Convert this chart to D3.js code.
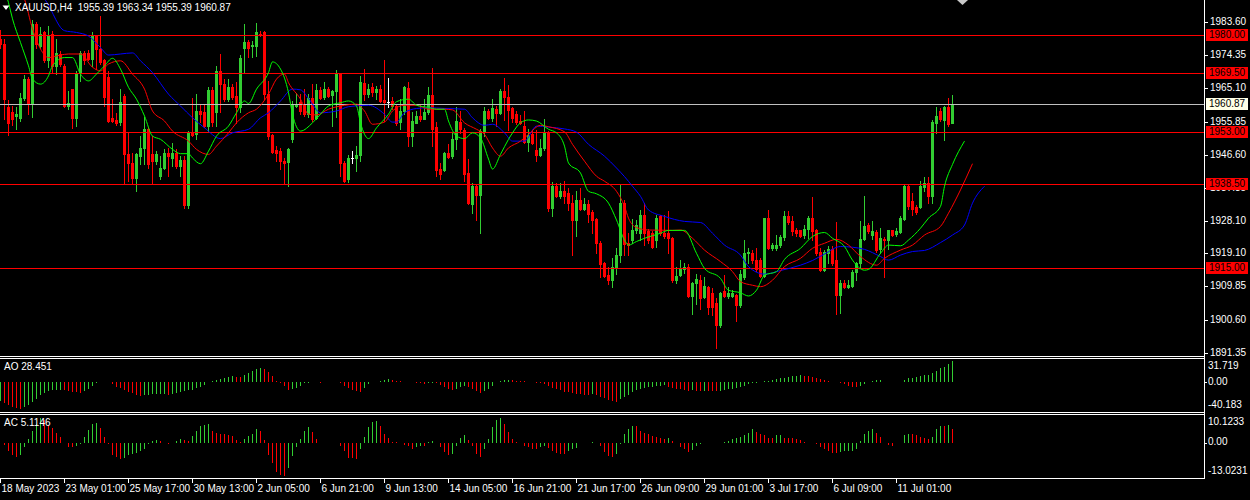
<!DOCTYPE html>
<html><head><meta charset="utf-8">
<script src="https://cdn.jsdelivr.net/npm/d3@7"></script>
<style>
html,body{margin:0;padding:0;background:#000;overflow:hidden;}
svg{display:block;}
text{font-family:"Liberation Sans",Arial,sans-serif;font-size:10px;fill:#fff;white-space:pre;}
</style></head><body>
<svg id="c" width="1250" height="500"></svg>
<script>
// ---------------- DATA ----------------
const symbolTitle = "XAUUSD,H4  1955.39 1963.34 1955.39 1960.87";
const aoTitle = "AO 28.451";
const acTitle = "AC 5.1146";

// candle rows: [open, high, low, close]
const candleOHLC = [
[1979,1981.5,1976.5,1977.5],[1977.5,1978.9,1956.5,1962.1],[1960,1962,1952,1955.5],[1958.5,1960.2,1954.8,1956.7],[1957.5,1960,1953.7,1958],
[1956.9,1963.9,1956,1962.5],[1962.5,1968.8,1962,1967.7],[1967.8,1968.4,1957.9,1960.7],[1960.7,1984.3,1957.2,1983.1],[1983,1983.5,1976.5,1977.5],
[1977,1982.2,1976.5,1980.3],[1980.8,1981.2,1972.4,1972.9],[1972.9,1982.4,1971,1979.8],[1980.3,1981.2,1969.5,1971.4],[1971.4,1978.9,1969.1,1975.1],
[1974.7,1975.6,1971.4,1971.9],[1971.4,1971.9,1960,1960.2],[1960.2,1964.4,1959.3,1960.9],[1964.8,1964.9,1954,1956.9],[1956.9,1970,1954.5,1969.5],
[1969.5,1975.6,1967.3,1975.1],[1975,1975.4,1972,1972.9],[1975,1975.7,1972.9,1973.3],[1973.3,1980.7,1971.4,1979.6],[1979.6,1979.8,1970.5,1976.1],
[1976.1,1985.4,1971.9,1972.4],[1972.9,1973.3,1960.2,1962.6],[1968.2,1970,1955.6,1956],[1956.8,1962.1,1955.6,1956],[1956.4,1958.3,1955,1955.5],
[1955.8,1964.9,1955,1961.2],[1963,1963.5,1938.7,1946.7],[1946.7,1952.7,1939.2,1944.3],[1944.3,1947.1,1938.7,1940.1],[1940.1,1947.1,1936.4,1946.7],
[1946.2,1951.8,1943.9,1948.5],[1948.5,1957,1943.9,1953.7],[1953.7,1954.2,1943,1943.9],[1946.7,1951.8,1938.7,1944.8],[1944.8,1947.6,1943.9,1946.7],
[1940.6,1946.2,1939.7,1943],[1943,1948.1,1942.5,1947],[1947,1948.5,1940.6,1946.2],[1945.7,1949.8,1943.4,1947.1],[1947.1,1948.1,1943,1943.4],
[1943.4,1946.2,1940.6,1945.1],[1945.1,1946.2,1931.8,1932.7],[1932.7,1953.2,1931.8,1952.7],[1953,1962.5,1951.8,1952],[1952.3,1963.5,1950.9,1958.8],
[1958.8,1960.7,1955.6,1957.9],[1958.4,1960.7,1954.2,1954.7],[1954.6,1965.4,1953.2,1964.7],[1964.7,1965.4,1954.6,1955.8],[1958.4,1971.4,1954.6,1970],
[1970,1974.7,1958.4,1966.3],[1966.3,1967.7,1961.6,1962.1],[1962.1,1967.7,1961.6,1965.6],[1965.6,1966.3,1962.1,1962.6],[1963,1966.8,1955.5,1959.8],
[1959.8,1974.4,1958.5,1973.5],[1976.3,1983.1,1969.7,1978],[1978.1,1978.7,1974,1976.5],[1976.8,1978.4,1974,1977.1],[1977,1983.4,1974.2,1980.7],
[1980.4,1981.2,1979.6,1980],[1980.7,1981.2,1962.1,1963.5],[1963.5,1967.3,1950.9,1951.8],[1952,1952.3,1947.1,1947.3],[1947.9,1949,1944.9,1947.1],
[1947.6,1948.5,1942.5,1944.8],[1944.8,1945.7,1938.7,1944.4],[1944.6,1948.5,1937.8,1948.2],[1950.9,1961.6,1950.1,1960.4],[1960.2,1963.9,1959.8,1960.7],
[1961.2,1963.5,1958,1958.9],[1960.4,1964.8,1957.4,1957.9],[1957.9,1963.5,1957,1962.3],[1962.3,1966.3,1956,1956.5],[1956.9,1966.3,1956.5,1964.7],
[1964.7,1965.4,1962.1,1962.3],[1962.8,1966.8,1962.1,1964.9],[1964.9,1965.4,1962.6,1963],[1963.2,1964.6,1954.6,1964.4],[1964.4,1970.2,1957,1969.5],
[1969.1,1969.5,1940.6,1944.4],[1944.3,1944.8,1939,1939.2],[1939.7,1946.6,1939,1945.7],[1945.8,1947.6,1944.3,1945.8],[1945.7,1949,1942,1946.4],
[1946.4,1968.6,1944.9,1966.9],[1966.7,1970.6,1961.8,1963.6],[1963.6,1966.4,1962.6,1964.8],[1965.4,1966.6,1963,1964],[1964.1,1965.8,1962.1,1965],
[1965,1966,1961.2,1961.6],[1961.9,1973.1,1955.9,1961.2],[1961.3,1967.9,1959.8,1961.3],[1961.6,1962.8,1959.4,1960.2],[1960.2,1960.7,1954.8,1955.4],
[1955.6,1962.1,1953.9,1958.8],[1958.8,1965.7,1957.9,1965.4],[1965.1,1966.8,1949,1951.8],[1951.8,1958.5,1949.1,1956],[1955.5,1958.9,1955.4,1957.3],
[1957.3,1960.7,1956,1956.5],[1956.7,1962.1,1956.5,1958.6],[1958.4,1965.4,1957.9,1963.2],[1963.2,1970.9,1949.1,1953.7],[1954.2,1955.6,1940.8,1942.3],
[1942.5,1944.4,1939.7,1941.1],[1942.3,1947.4,1942,1947],[1947,1949.5,1945.8,1946],[1946.2,1952.7,1945.8,1951.1],[1951.1,1960,1948.2,1956],
[1955.7,1958.8,1952.7,1953.7],[1953.5,1954.1,1939.3,1941.1],[1941.5,1945.3,1932.9,1933],[1932.9,1938.7,1930.3,1937.8],[1937.8,1938.3,1928.4,1935.5],
[1935.5,1953.7,1924.7,1953.2],[1953.2,1960,1951.8,1958.8],[1958.8,1959.3,1956.5,1956.9],[1956.9,1962.1,1956,1959.5],[1959.3,1960.2,1954.6,1958.3],
[1958.3,1964.9,1957.9,1964.4],[1964.4,1967.9,1956.4,1962.6],[1962.8,1966,1953.5,1959.1],[1959.5,1960,1955.6,1956.9],[1957.9,1958.8,1955.1,1955.6],
[1956.1,1957.7,1955.1,1955.5],[1954.6,1958.8,1949.8,1950.1],[1950.1,1953.7,1947.6,1952],[1952.3,1953.5,1949.5,1949.8],[1948,1953.5,1944.9,1946.5],
[1946.5,1951.1,1946.3,1948.6],[1948.6,1956.7,1947.9,1952.7],[1952.7,1953.2,1930.8,1931.7],[1931.7,1938.9,1929.5,1938],[1938,1938.7,1934.8,1935],
[1935.2,1938.7,1934.6,1936.4],[1936.4,1939.2,1933.2,1935],[1935.8,1937.4,1931.3,1933],[1933,1935.5,1918.6,1928.3],[1928.3,1936.4,1924,1934.1],
[1934.1,1937.4,1931.3,1931.4],[1931.6,1934.5,1931.2,1932.9],[1932.9,1934.1,1927.7,1930.1],[1930.5,1931.3,1924.7,1928.4],[1928.6,1928.9,1919.1,1921.9],
[1922.1,1922.4,1912.6,1916.1],[1916.3,1916.8,1912.4,1912.8],[1913,1915.4,1910.6,1911.6],[1911.6,1917.8,1909.7,1915.2],[1915.2,1920.7,1913.3,1918.5],
[1918.5,1938.3,1916.8,1933.2],[1933.2,1933.9,1918.5,1921.6],[1922.1,1924.9,1918.7,1921.5],[1922.8,1928.7,1922.1,1925.5],[1925.5,1928.5,1924.9,1926.9],
[1924.9,1931.2,1922.8,1929.9],[1929.9,1933.2,1921.3,1924.9],[1925.3,1925.9,1922,1922.8],[1924.9,1925.3,1920.6,1921],[1922.8,1929.9,1920.9,1928.9],
[1929.4,1929.9,1924.3,1924.7],[1924.7,1929.9,1923.4,1923.8],[1924.7,1930.8,1919.1,1923.4],[1923.4,1923.7,1911.2,1911.6],[1911.6,1915.4,1910.7,1912.8],
[1913,1917.2,1912.8,1915.1],[1914.7,1916.3,1913.5,1915.4],[1915.4,1916.1,1907,1907.2],[1907.2,1911.2,1902.3,1910.7],[1910.7,1913.3,1904.9,1912],
[1911.6,1913,1903.7,1906.5],[1906.8,1912.6,1906.5,1910],[1909.8,1910,1902.3,1904.2],[1907.9,1909.3,1901.8,1904],[1905.3,1906.5,1892.8,1899],
[1899,1908.4,1898.6,1908.1],[1908.7,1913,1907,1907.2],[1907.2,1909.8,1906.6,1907.9],[1907.2,1908.8,1906.9,1907.9],[1907.5,1907.8,1900.3,1904.7],
[1904.7,1914.4,1904.2,1913.4],[1912.4,1922.8,1912,1919.1],[1919.1,1920.6,1916.4,1919.5],[1919.3,1920,1916.4,1917.1],[1917.3,1920.6,1914.3,1914.7],
[1917.1,1917.7,1912.4,1912.8],[1912.8,1929,1912.6,1929],[1928.9,1931.1,1920.2,1920.5],[1920.5,1922,1920,1921.5],[1920.5,1924.2,1920.1,1921.5],
[1921.5,1924.3,1921,1923.7],[1923.7,1930.8,1922.9,1929.6],[1929.6,1930.8,1927.4,1927.7],[1928.2,1929.6,1924.3,1925.3],[1925.7,1926.2,1923.9,1924.7],
[1925.7,1925.7,1923.7,1923.8],[1924.1,1927.1,1923.4,1925.9],[1925.9,1929.5,1923.4,1929],[1929,1934.9,1922.8,1925.3],[1925.7,1925.9,1918.7,1919.1],
[1919.6,1920.6,1914.1,1914.4],[1914.4,1920,1914.1,1919.6],[1919.3,1921.2,1916.4,1920.2],[1920.2,1921.2,1915.9,1916.4],[1917.3,1927.7,1902.3,1907.5],
[1907.5,1911.6,1902.5,1910.7],[1910.9,1911.6,1909.4,1909.6],[1909.6,1911.6,1909.4,1910.3],[1910,1914.4,1909.6,1914],[1914,1916.8,1911.6,1916.5],
[1916.3,1928.2,1914.9,1923],[1923,1935,1922.8,1926.8],[1927.1,1927.6,1924.8,1925.3],[1924.3,1928.2,1923.1,1925.3],[1925,1925.7,1919.4,1919.9],
[1920.4,1926.2,1919.1,1923.3],[1923.2,1923.7,1912.4,1922.7],[1922.8,1925.7,1920.4,1925.5],[1925.5,1925.7,1924,1924.3],[1924.4,1926.1,1923.9,1925.4],
[1925.1,1929.6,1924.7,1928.9],[1928.8,1938.3,1928.4,1938],[1938,1938.3,1931.5,1932.2],[1933.6,1935.9,1929.9,1931.5],[1932,1932.7,1930.2,1930.6],
[1932,1939.3,1931.8,1937.8],[1937.6,1940.4,1936.4,1938.7],[1938.7,1940.4,1933.1,1935.2],[1935.2,1956.4,1933.1,1955.8],[1955.5,1959.8,1952.7,1957.5],
[1958.8,1959.5,1956,1956.7],[1956.4,1960.1,1950.7,1959.8],[1959.8,1962.4,1954.7,1955.2],[1955.39,1963.34,1955.39,1960.87]
];

// Alligator lines: [bar index, price]
const jawPoints = [[0,1997],[5,1994],[11,1990],[16,1981.2],[19,1980.7],[22,1979.7],[25,1976.5],[27,1974.4],[30,1974.7],[33,1975],[35,1972.8],[38,1969.5],[42,1963.5],[45,1960.2],[48,1956.9],[51,1954.1],[55,1951.1],[58,1952.7],[62,1953.7],[65,1956.9],[67,1958.3],[70,1961.6],[73,1964.9],[75,1964.7],[77,1962.3],[80,1958.3],[84,1958.8],[87,1960],[92,1960.4],[96,1957.9],[98,1955.7],[99,1955.7],[101,1958.3],[104,1959.5],[107,1959.7],[111,1959.5],[116,1959.3],[118,1956.9],[121,1954.8],[123,1955.1],[126,1952.7],[128,1950.4],[131,1950.4],[134,1954.6],[137,1954.3],[141,1953.8],[144,1952.9],[147,1949.5],[151,1946.2],[154,1942.9],[156,1940.5],[158,1937.8],[160,1935],[162,1931.2],[166,1929.4],[171,1928],[175,1927.7],[178,1924.7],[181,1921.4],[185,1918.6],[187,1915.4],[191,1913.3],[195,1914.3],[200,1915.8],[203,1917.1],[206,1918.9],[210,1921],[213,1920.8],[216,1920.2],[220,1918.2],[222,1917.2],[225,1918.6],[228,1919.6],[231,1919.9],[235,1922.1],[238,1924.2],[241,1927],[243,1933.1],[246,1937.8]];
const teethPoints = [[4,1994],[6,1990],[8,1981.7],[10,1976.1],[12,1973.7],[15,1974.4],[17,1974.7],[20,1974.7],[23,1971],[25,1970],[27,1971.9],[30,1972.8],[33,1969.1],[36,1964.9],[38,1958.8],[41,1956],[43,1953.2],[47,1950.4],[49,1948.1],[52,1946.7],[54,1949],[57,1952.7],[59,1955.5],[62,1958.3],[64,1959.3],[67,1963.5],[69,1967.7],[71,1969.1],[72,1966.7],[75,1962.1],[77,1957.9],[79,1957.7],[82,1959.3],[86,1960.4],[89,1960.7],[91,1958.8],[93,1955.1],[96,1955.7],[98,1958.8],[101,1960.4],[104,1960.4],[107,1959.3],[111,1959.3],[113,1959.1],[116,1955.5],[119,1953.7],[121,1952.3],[123,1948.5],[125,1946.2],[127,1948.5],[130,1950.4],[132,1952.3],[135,1954.8],[137,1954.4],[141,1953],[143,1949.5],[146,1944.8],[149,1940.6],[151,1939.2],[154,1936.4],[156,1932.2],[157,1928.9],[159,1926.3],[162,1925.6],[168,1925.5],[170,1925.6],[173,1923.3],[176,1920],[180,1916.8],[183,1914],[185,1911.2],[188,1910.2],[190,1909.8],[193,1911.6],[196,1915.4],[200,1917.7],[203,1920.5],[206,1921.9],[209,1923],[212,1921.4],[215,1918.2],[219,1915.8],[221,1917.7],[225,1920],[228,1921.4],[231,1924.2],[235,1926.6],[237,1930.3],[240,1936.8],[243,1944.1]];
const lipsPoints = [[0,1996],[2,1989],[3,1984.5],[5,1977.9],[7,1971.4],[8,1967.7],[10,1966.3],[12,1968.6],[13,1971.4],[16,1973.7],[18,1973.7],[20,1969.1],[22,1967.2],[24,1969.1],[26,1971.4],[28,1973.5],[30,1970.5],[32,1965.4],[34,1962.1],[36,1957.4],[38,1951.8],[40,1950.9],[43,1948.1],[45,1946.9],[47,1946.9],[48,1945.7],[50,1944.1],[52,1947.6],[54,1951.8],[57,1954.6],[59,1958.3],[61,1961.6],[62,1960.9],[64,1964.9],[67,1969.5],[68,1972.5],[70,1970.5],[72,1963.9],[73,1957.9],[75,1953.2],[78,1955.5],[80,1957.9],[82,1960.2],[85,1961.1],[87,1961.6],[89,1960.2],[90,1955.5],[91,1952.3],[92,1951.1],[94,1954.1],[97,1957.9],[99,1961.4],[102,1962.1],[104,1960.4],[107,1959.8],[109,1959.3],[111,1959.3],[112,1956],[114,1951.8],[116,1951.1],[118,1952.7],[120,1951.3],[122,1945.4],[123,1942.6],[125,1946.7],[127,1950.9],[128,1952.7],[130,1955.5],[132,1956.3],[134,1956],[137,1953.7],[139,1952.7],[141,1949],[142,1944.3],[145,1941.5],[147,1936.4],[149,1935.7],[152,1933.1],[154,1928.4],[156,1922.8],[157,1921.4],[159,1922.4],[161,1923.3],[165,1924.7],[167,1925.5],[171,1925.5],[174,1919.1],[176,1914.9],[180,1912.1],[182,1908.8],[185,1908.1],[187,1907.2],[189,1908.8],[191,1913],[194,1914],[196,1917.4],[200,1920.5],[203,1923.8],[206,1924.9],[208,1923.3],[211,1921],[213,1917.2],[216,1914.4],[217,1914.6],[220,1919.1],[222,1921.4],[225,1921.2],[227,1922.8],[230,1926.1],[232,1928.9],[235,1932.2],[236,1937.8],[238,1943.9],[241,1950.4]];

const aoValues = [-25.8,-27.7,-30.4,-33.7,-35,-36,-33.7,-30.4,-26.7,-22,
-17.5,-13.8,-12,-11,-10.6,-10.1,-11,-12,-13,-13.5,
-14,-12,-8.5,-4.5,-1,0.8,0.5,0.3,-2.8,-6,
-8.3,-11,-12.9,-14.8,-16.6,-18,-17.5,-16.6,-16.1,-16,
-15.7,-15.6,-16.6,-15.2,-14.5,-12.9,-12,-11,-10.1,-8.3,
-6,-3,0.8,1.8,3.2,4.6,6.4,7.8,9.2,7.8,
7.4,10,12.4,15.7,18.4,19.4,18.4,14.7,9.2,1.8,
-1.4,-4.6,-10.6,-9.2,-7.4,-4.6,-1.4,-0.3,0.2,0.1,
-0.2,0.3,0.1,0.4,0.2,-1.4,-4.6,-7.4,-9.7,-12,
-13,-7.4,-2.8,0.3,0.9,2.3,3.3,4.6,3.3,2.3,
1.4,0.9,0.3,0.1,-0.2,-0.4,-1.9,-0.8,-0.5,-1.4,
-3.7,-6,-8.4,-10.7,-8.4,-6,-4.6,-6.5,-9.3,-12,
-14,-12,-9.3,-4.6,0,1.4,2.8,3.7,2.8,2.3,
2.0,1.5,0.9,0.3,-0.2,-0.6,-2.8,-4.6,-7,-9.3,
-11,-12.5,-13.5,-14.5,-15.5,-16,-16.5,-16.8,-16.2,-17.5,
-19.5,-21.5,-23.5,-25.5,-26,-22.5,-20,-16.7,-13,-10.7,
-9.3,-7.4,-6,-5.8,-4.6,-4.4,-4.2,-6,-7.4,-8.4,
-9.3,-10.7,-11.2,-10.8,-11.3,-11.6,-11.2,-11.5,-11.9,-12.3,
-11.5,-10.5,-9.3,-8.4,-8.2,-6,-4.6,-2.8,-1.4,-0.3,
0.9,1.4,1.9,2.8,4.6,5.6,6.5,7.9,8.8,9.3,
10.2,9.3,8.8,7.9,6.5,4.6,3.3,1.9,0.9,0.2,
-1.4,-2.8,-4.6,-6,-6.3,-4.6,-1.9,0.2,1.9,2.8,
3.7,0.9,0.5,0.4,0.9,1.0,2.8,5.6,6.5,7,
8.8,10.2,10.4,12.5,15.8,19.5,21.4,25,28.451];

const acValues = [0.0,-1.0,-3.2,-4.4,-5.4,-4.4,-1.6,1.3,4.4,6.7,
9.2,8.2,6.3,5.4,3.4,1.9,0.0,-1.6,-1.7,-1.2,
-0.4,1.9,4.7,7.0,7.2,5.4,2.2,-0.6,-4.4,-5.4,
-5.9,-5.7,-4.4,-4.2,-3.8,-3.2,-2.2,-0.5,0.4,0.9,
0.4,0.0,-0.4,-0.3,0.6,1.3,0.9,0.6,2.5,4.2,
5.9,6.5,7.0,4.4,3.4,3.2,3.1,2.9,2.5,0.9,
0.3,1.3,2.5,3.2,5.1,4.2,1.0,-4.4,-7.6,-10.8,
-12.0,-12.2,-9.5,-5.1,-1.5,1.3,4.4,5.7,3.8,1.3,
0.0,-0.1,-0.2,-0.1,0.0,-1.3,-3.2,-5.7,-5.8,-6.0,
-2.5,1.9,5.7,7.6,7.8,5.9,3.3,1.8,0.3,0.1,
-0.3,-0.8,-1.1,-2.4,-1.8,-1.1,-1.2,0.3,0.5,0.0,
-1.8,-3.3,-4.6,-4.1,-1.1,1.8,2.7,1.0,-1.1,-4.1,
-5.4,-2.4,1.4,5.6,8.4,9.1,6.9,4.0,1.4,0.1,
0.0,-1.1,-1.8,-2.4,-2.5,-1.8,-1.1,-2.0,-3.1,-3.7,
-4.1,-4.3,-3.1,-2.4,-2.0,-0.3,-0.1,0.0,0.05,-0.05,
-1.1,-3.3,-5.0,-5.2,-4.1,-0.5,3.3,4.8,6.1,5.9,
4.3,3.6,3.3,2.3,2.0,1.8,1.4,1.5,0.5,0.0,
-1.5,-2.4,-3.3,-2.8,-1.1,-0.5,0.0,-0.05,-0.1,-0.15,
-0.1,0.1,0.5,1.4,1.5,2.0,2.7,3.6,4.8,4.0,
3.3,2.7,1.8,1.7,2.7,2.8,1.8,1.75,1.7,1.4,
1.0,0.1,0.0,-0.3,-0.5,-1.5,-2.4,-3.1,-3.7,-3.8,
-3.3,-3.1,-3.05,-3.0,-2.4,0.5,3.3,4.3,4.8,3.6,
2.0,0.0,-0.8,-1.1,-0.1,0.0,2.7,3.3,3.1,2.7,
2.0,1.8,1.4,2.0,4.8,6.1,6.0,6.5,5.1146];

const timeLabelBars = [0,16,32,48,64,80,96,112,128,144,160,176,192,208,224];
const timeLabels = ["18 May 2023","23 May 01:00","25 May 17:00","30 May 13:00","2 Jun 05:00","6 Jun 21:00","9 Jun 13:00","14 Jun 05:00","16 Jun 21:00","21 Jun 17:00","26 Jun 09:00","29 Jun 01:00","3 Jul 17:00","6 Jul 09:00","11 Jul 01:00"];
const priceTicks = [1983.60,1974.35,1965.10,1955.85,1946.60,1937.35,1928.10,1919.10,1909.85,1900.60,1891.35];
const levelPrices = [1980.00,1969.50,1953.00,1938.50,1915.00];
const bidPrice = 1960.87;
const aoRange = [-40.183, 31.719];
const acRange = [-13.0231, 10.1233];

// ---------------- STYLE / LAYOUT ----------------
const W = 1250, H = 500;
const axisX = 1204;
const mainTop = 0, mainBottom = 356;
const aoTop = 359, aoBottom = 412;
const acTop = 415, acBottom = 478;
const BULL = "#32CD32", BEAR = "#FF0000";

const svg = d3.select("#c");
svg.append("rect").attr("width", W).attr("height", H).attr("fill", "#000");

const x = d3.scaleLinear().domain([0, candleOHLC.length - 1]).range([0, 4 * (candleOHLC.length - 1)]);
const y = d3.scaleLinear().domain([1890.46, 1989.76]).range([mainBottom, mainTop]);
const yAO = d3.scaleLinear().domain(aoRange).range([aoBottom, aoTop]);
const yAC = d3.scaleLinear().domain(acRange).range([acBottom, acTop]);
const cx = i => Math.round(x(i)) + 0.5;

const defs = svg.append("defs");
defs.append("clipPath").attr("id", "mainClip").append("rect")
  .attr("x", 0).attr("y", mainTop).attr("width", axisX).attr("height", mainBottom - mainTop);
defs.append("clipPath").attr("id", "aoClip").append("rect")
  .attr("x", 0).attr("y", aoTop).attr("width", axisX).attr("height", aoBottom - aoTop);
defs.append("clipPath").attr("id", "acClip").append("rect")
  .attr("x", 0).attr("y", acTop).attr("width", axisX).attr("height", acBottom - acTop);

// ---------- main panel ----------
const main = svg.append("g").attr("clip-path", "url(#mainClip)");
const cg = main.append("g").attr("shape-rendering", "crispEdges");
candleOHLC.forEach((d, i) => {
  const [o, h, l, c] = d;
  const col = c > o ? BULL : (c < o ? BEAR : "#FFFFFF");
  const px = cx(i);
  cg.append("line").attr("x1", px).attr("x2", px)
    .attr("y1", Math.round(y(h))).attr("y2", Math.round(y(l)) + 1)
    .attr("stroke", col).attr("stroke-width", 1);
  if (o !== c) {
    const top = Math.round(y(Math.max(o, c)));
    const bot = Math.round(y(Math.min(o, c)));
    cg.append("rect").attr("x", px - 1.5).attr("y", top)
      .attr("width", 3).attr("height", Math.max(1, bot - top + 1)).attr("fill", col);
  } else {
    const yy = Math.round(y(o)) + 0.5;
    cg.append("line").attr("x1", px - 1.5).attr("x2", px + 1.5)
      .attr("y1", yy).attr("y2", yy).attr("stroke", col);
  }
});

// horizontal levels
const lg = main.append("g").attr("shape-rendering", "crispEdges");
levelPrices.forEach(p => {
  const yy = Math.round(y(p)) + 0.5;
  lg.append("line").attr("x1", 0).attr("x2", axisX).attr("y1", yy).attr("y2", yy)
    .attr("stroke", "#FF0000").attr("stroke-width", 1);
});
{
  const yy = Math.round(y(bidPrice)) + 0.5;
  lg.append("line").attr("x1", 0).attr("x2", axisX).attr("y1", yy).attr("y2", yy)
    .attr("stroke", "#C0C0C0").attr("stroke-width", 1);
}

// alligator
const lineGen = d3.line().x(d => x(d[0]) + 0.5).y(d => y(d[1])).curve(d3.curveMonotoneX);
[[jawPoints, "#0000FF"], [teethPoints, "#FF0000"], [lipsPoints, "#00FF00"]].forEach(([pts, col]) => {
  main.append("path").attr("d", lineGen(pts)).attr("fill", "none")
    .attr("stroke", col).attr("stroke-width", 1);
});

// header
svg.append("path").attr("d", "M2.5,5.5 L9.5,5.5 L6,10 Z").attr("fill", "#FFFFFF");
svg.append("text").attr("x", 15).attr("y", 8).attr("dominant-baseline", "middle")
  .attr("xml:space", "preserve").attr("fill", "#FFFFFF").text(symbolTitle);
// chart shift marker
svg.append("path").attr("d", `M${x(238) + 5},0 L${x(238) + 16},0 L${x(238) + 10.5},5 Z`).attr("fill", "#C8C8C8");

// ---------- AO ----------
const aog = svg.append("g").attr("clip-path", "url(#aoClip)").attr("shape-rendering", "crispEdges");
aoValues.forEach((v, i) => {
  const col = (i === 0 || v > aoValues[i - 1]) ? BULL : BEAR;
  const y0 = Math.round(yAO(0)), y1 = Math.round(yAO(v));
  if (y0 === y1) return;
  aog.append("line").attr("x1", cx(i)).attr("x2", cx(i))
    .attr("y1", Math.min(y0, y1)).attr("y2", Math.max(y0, y1))
    .attr("stroke", col).attr("stroke-width", 1);
});
svg.append("text").attr("x", 4).attr("y", 367).attr("dominant-baseline", "middle").text(aoTitle);

// ---------- AC ----------
const acg = svg.append("g").attr("clip-path", "url(#acClip)").attr("shape-rendering", "crispEdges");
acValues.forEach((v, i) => {
  const col = (i === 0 || v > acValues[i - 1]) ? BULL : BEAR;
  const y0 = Math.round(yAC(0)), y1 = Math.round(yAC(v));
  if (y0 === y1) return;
  acg.append("line").attr("x1", cx(i)).attr("x2", cx(i))
    .attr("y1", Math.min(y0, y1)).attr("y2", Math.max(y0, y1))
    .attr("stroke", col).attr("stroke-width", 1);
});
svg.append("text").attr("x", 4).attr("y", 423).attr("dominant-baseline", "middle").text(acTitle);

// ---------- frames ----------
const fg = svg.append("g").attr("shape-rendering", "crispEdges").attr("stroke", "#FFFFFF").attr("stroke-width", 1);
[mainBottom, aoTop - 0.5, aoBottom, acTop - 0.5, acBottom].forEach(v => {
  const yy = Math.floor(v) + 0.5;
  fg.append("line").attr("x1", 0).attr("x2", axisX + 1).attr("y1", yy).attr("y2", yy);
});
fg.append("line").attr("x1", axisX + 0.5).attr("x2", axisX + 0.5).attr("y1", 0).attr("y2", acBottom + 1);

// ---------- right price axis ----------
const ag = svg.append("g");
priceTicks.forEach(p => {
  const yy = Math.round(y(p)) + 0.5;
  ag.append("line").attr("x1", axisX + 1).attr("x2", axisX + 4).attr("y1", yy).attr("y2", yy)
    .attr("stroke", "#FFFFFF").attr("shape-rendering", "crispEdges");
  ag.append("text").attr("x", axisX + 6).attr("y", yy).attr("dominant-baseline", "middle").text(p.toFixed(2));
});
levelPrices.forEach(p => {
  const yy = Math.round(y(p));
  ag.append("rect").attr("x", axisX + 2).attr("y", yy - 6).attr("width", 42).attr("height", 12).attr("fill", "#FF0000");
  ag.append("text").attr("x", axisX + 5).attr("y", yy + 0.5).attr("dominant-baseline", "middle")
    .style("fill", "#000000").text(p.toFixed(2));
});
{
  const yy = Math.round(y(bidPrice));
  ag.append("rect").attr("x", axisX + 2).attr("y", yy - 6).attr("width", 42).attr("height", 12).attr("fill", "#FFFFE6");
  ag.append("text").attr("x", axisX + 5).attr("y", yy + 0.5).attr("dominant-baseline", "middle")
    .style("fill", "#000000").text(bidPrice.toFixed(2));
}

// AO / AC axis labels
function subAxis(scale, range, top, bottom, fmt) {
  const labs = [[range[1], top + 7], [0, scale(0)], [range[0], bottom - 7]];
  labs.forEach(([v, yy]) => {
    ag.append("text").attr("x", axisX + 4).attr("y", yy).attr("dominant-baseline", "middle")
      .text(v === 0 ? "0.00" : fmt(v));
  });
  const yz = Math.round(scale(0)) + 0.5;
  ag.append("line").attr("x1", axisX + 1).attr("x2", axisX + 3).attr("y1", yz).attr("y2", yz)
    .attr("stroke", "#FFFFFF").attr("shape-rendering", "crispEdges");
}
subAxis(yAO, aoRange, aoTop, aoBottom, v => v.toFixed(3));
subAxis(yAC, acRange, acTop, acBottom, v => v.toFixed(4));

// ---------- time axis ----------
timeLabelBars.forEach((b, k) => {
  const px = cx(b);
  ag.append("line").attr("x1", px).attr("x2", px).attr("y1", acBottom + 1).attr("y2", acBottom + 5)
    .attr("stroke", "#FFFFFF").attr("shape-rendering", "crispEdges");
  ag.append("text").attr("x", px + 1).attr("y", 489).attr("dominant-baseline", "middle").text(timeLabels[k]);
});
</script>
</body></html>
